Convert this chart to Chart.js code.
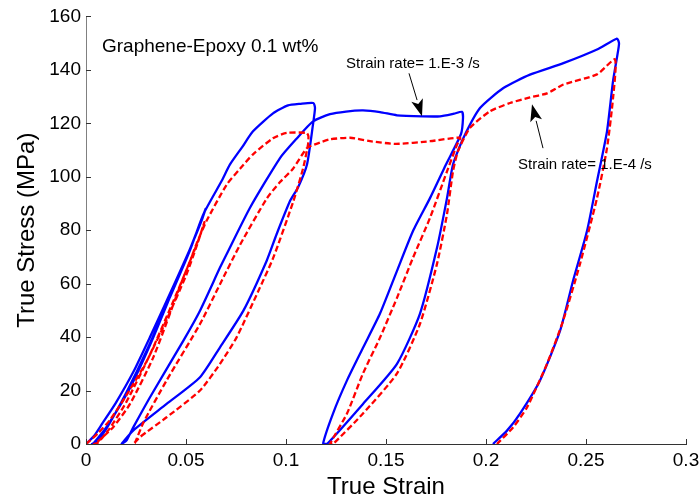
<!DOCTYPE html>
<html>
<head>
<meta charset="utf-8">
<script src="https://cdn.jsdelivr.net/npm/chart.js@4.4.0/dist/chart.umd.min.js"></script>
<style>
body { margin: 0; background: #fff; }
#wrap { width: 700px; height: 502px; }
</style>
</head>
<body>
<div id="wrap"><canvas id="stressStrain" width="700" height="502"></canvas></div>
<script>
// strain rate 1.E-3 /s  (blue, solid)
var strainFast = [
    0, 0.004, 0.008, 0.015, 0.0237, 0.032, 0.0403, 0.052, 0.0598,
    0.058, 0.0537, 0.045, 0.032, 0.022, 0.0103, 0.004, 0.003,
    0.005, 0.01, 0.02, 0.031, 0.042, 0.052, 0.0587, 0.0678, 0.072, 0.078, 0.0835, 0.0935, 0.101, 0.107, 0.1137, 0.1145,
    0.1135, 0.1105, 0.106, 0.102, 0.0953, 0.0903, 0.0787, 0.067, 0.057, 0.0403, 0.0237, 0.0178,
    0.0203, 0.0237, 0.032, 0.0487, 0.057, 0.067, 0.0703, 0.082, 0.097, 0.105, 0.1135, 0.122, 0.13, 0.1385, 0.147, 0.1555, 0.1685, 0.177, 0.184, 0.188, 0.1885,
    0.1875, 0.18, 0.172, 0.1635, 0.1555, 0.147, 0.1385, 0.1305, 0.1235, 0.1185,
    0.1205, 0.1385, 0.1555, 0.167, 0.1755, 0.1805, 0.1835, 0.1887, 0.197, 0.2087, 0.222, 0.2387, 0.2555, 0.2655, 0.2665,
    0.266, 0.2635, 0.2605, 0.2555, 0.2505, 0.2435, 0.237, 0.227, 0.217, 0.2105, 0.2035
];
var stressFast = [
    0, 3, 7.5, 15.5, 27, 40, 53.5, 73, 88,
    84, 76, 60.5, 37, 21, 6.4, 0.5, 0,
    0.5, 5.5, 19, 36, 55, 72.5, 86, 98.4, 104.6, 111, 117, 123.7, 126.7, 127.3, 127.6, 125.7,
    119.6, 104.6, 96, 90.9, 78.5, 68.5, 49.9, 36.2, 25, 15, 5.1, 0,
    1.4, 6.3, 17.5, 38.7, 49.9, 66, 71, 88.4, 107, 114, 120.7, 123.4, 124.4, 124.8, 124.2, 123, 122.6, 122.6, 123.6, 124.3, 122,
    116, 104.6, 92, 79.7, 64.8, 48.8, 36, 23.8, 11.4, 0,
    0, 15, 30, 48.8, 73.4, 92, 104.6, 114.5, 125.7, 133.2, 138.2, 142.5, 147.6, 151.7, 150,
    146.9, 135.7, 117, 98.3, 79.7, 61, 42.3, 23.8, 11.4, 5, 0
];

// strain rate 1.E-4 /s  (red, dashed)
var strainSlow = [
    0, 0.006, 0.012, 0.02, 0.03, 0.04, 0.05, 0.0553, 0.0592,
    0.057, 0.0553, 0.048, 0.0337, 0.022, 0.0137, 0.006, 0.004,
    0.006, 0.012, 0.02, 0.032, 0.044, 0.052, 0.0553, 0.0603, 0.0703, 0.077, 0.0835, 0.0935, 0.1003, 0.1103, 0.1112,
    0.111, 0.1085, 0.1037, 0.0937, 0.087, 0.0753, 0.067, 0.057, 0.0403, 0.027, 0.0237,
    0.0245, 0.0287, 0.0403, 0.057, 0.067, 0.077, 0.0905, 0.097, 0.1035, 0.1105, 0.117, 0.122, 0.132, 0.142, 0.155, 0.172, 0.187,
    0.1855, 0.1805, 0.172, 0.1635, 0.1555, 0.147, 0.1385, 0.1305, 0.122,
    0.1235, 0.1385, 0.1555, 0.167, 0.1755, 0.1805, 0.1835, 0.186, 0.192, 0.202, 0.212, 0.222, 0.2305, 0.2387, 0.2555, 0.2645,
    0.2635, 0.2605, 0.2555, 0.247, 0.2385, 0.2305, 0.2205, 0.2135, 0.2055
];
var stressSlow = [
    0, 4, 9, 18, 30.5, 46, 63, 74, 83,
    78, 74.5, 61, 32.5, 15, 6.4, 1, 0,
    0.5, 6, 15.5, 33.5, 54, 68.4, 75, 83.5, 97, 103, 108.4, 114.4, 116.4, 116.4, 115.2,
    112, 103, 90.9, 69.8, 58.6, 39.9, 30, 20, 10, 2.6, 0,
    0.5, 8, 23.8, 44.9, 59.8, 74.5, 92, 98, 103, 110.7, 112.8, 114, 114.6, 113.3, 112.3, 113.3, 114.6,
    112, 102, 84.6, 69.7, 54.7, 39.8, 26.4, 11.4, 0,
    0, 11.4, 26.4, 45, 67.4, 86, 102, 109.6, 118.3, 124.5, 127.6, 129.7, 131.2, 134.5, 138.3, 143.9,
    129.3, 110.7, 92, 67.4, 46, 30, 13.7, 6.2, 0
];

var strainTicks = [0, 0.05, 0.1, 0.15, 0.2, 0.25, 0.3];
var stressTicks = [0, 20, 40, 60, 80, 100, 120, 140, 160];

var fontFamily = "Arial, 'Liberation Sans', sans-serif";

function toPoints(xs, ys) {
    var pts = [];
    for (var i = 0; i < xs.length; i++) {
        pts.push({x: xs[i], y: ys[i]});
    }
    return pts;
}

// draws the inward ticks, the text labels and the arrows
var extras = {
    id: 'extras',
    afterDraw: function(chart) {
        var ctx = chart.ctx, xs = chart.scales.x, ys = chart.scales.y;
        ctx.save();

        ctx.strokeStyle = '#333';
        ctx.lineWidth = 1;
        strainTicks.forEach(function(v) {
            var px = Math.round(xs.getPixelForValue(v)) + 0.5;
            ctx.beginPath();
            ctx.moveTo(px, ys.bottom);
            ctx.lineTo(px, ys.bottom - 5);
            ctx.stroke();
        });
        stressTicks.forEach(function(v) {
            var py = Math.round(ys.getPixelForValue(v)) + 0.5;
            ctx.beginPath();
            ctx.moveTo(xs.left, py);
            ctx.lineTo(xs.left + 5, py);
            ctx.stroke();
        });

        ctx.fillStyle = '#000';
        ctx.textBaseline = 'alphabetic';
        ctx.textAlign = 'left';
        ctx.font = '19px ' + fontFamily;
        ctx.fillText('Graphene-Epoxy 0.1 wt%', xs.getPixelForValue(0.008), ys.getPixelForValue(146.6));
        ctx.font = '15px ' + fontFamily;
        ctx.fillText('Strain rate= 1.E-3 /s', xs.getPixelForValue(0.13), ys.getPixelForValue(140.7));
        ctx.fillText('Strain rate= 1.E-4 /s', xs.getPixelForValue(0.216), ys.getPixelForValue(102.9));

        function arrow(x0, y0, x1, y1) {
            var ax = xs.getPixelForValue(x0), ay = ys.getPixelForValue(y0);
            var bx = xs.getPixelForValue(x1), by = ys.getPixelForValue(y1);
            var ang = Math.atan2(by - ay, bx - ax);
            var len = 17, half = 6;
            var cx = bx - len * Math.cos(ang), cy = by - len * Math.sin(ang);
            ctx.strokeStyle = '#000';
            ctx.lineWidth = 1;
            ctx.beginPath();
            ctx.moveTo(ax, ay);
            ctx.lineTo(cx, cy);
            ctx.stroke();
            var nx = -Math.sin(ang), ny = Math.cos(ang);
            var mx = bx - (len - 4) * Math.cos(ang), my = by - (len - 4) * Math.sin(ang);
            ctx.beginPath();
            ctx.moveTo(bx, by);
            ctx.lineTo(cx + nx * half, cy + ny * half);
            ctx.lineTo(mx, my);
            ctx.lineTo(cx - nx * half, cy - ny * half);
            ctx.closePath();
            ctx.fill();
        }
        arrow(0.1615, 138.7, 0.168, 122.6);
        arrow(0.2285, 110.7, 0.223, 127.1);

        ctx.restore();
    }
};

var chart = new Chart(document.getElementById('stressStrain').getContext('2d'), {
    type: 'scatter',
    data: {
        datasets: [{
            label: 'Strain rate= 1.E-3 /s',
            data: toPoints(strainFast, stressFast),
            showLine: true,
            borderColor: '#0000ff',
            borderWidth: 2.3,
            pointRadius: 0,
            tension: 0.2,
            order: 2
        }, {
            label: 'Strain rate= 1.E-4 /s',
            data: toPoints(strainSlow, stressSlow),
            showLine: true,
            borderColor: '#ff0000',
            borderWidth: 2.3,
            borderDash: [6, 3],
            pointRadius: 0,
            tension: 0.2,
            order: 1
        }]
    },
    options: {
        responsive: false,
        animation: false,
        devicePixelRatio: 1,
        layout: { padding: { top: 15, right: 14, left: 0, bottom: 0 } },
        plugins: {
            legend: { display: false },
            tooltip: { enabled: false }
        },
        scales: {
            x: {
                type: 'linear',
                min: 0,
                max: 0.3,
                afterFit: function(scale) {
                    scale.height = 58;
                    scale.paddingRight = 14;
                    scale.paddingLeft = 0;
                },
                afterBuildTicks: function(scale) {
                    scale.ticks = strainTicks.map(function(v) { return {value: v}; });
                },
                grid: { display: false, drawTicks: false },
                border: { display: true, color: '#333', width: 1 },
                ticks: {
                    color: '#000',
                    padding: 5,
                    maxRotation: 0,
                    font: { family: fontFamily, size: 19 },
                    callback: function(v) { return String(Math.round(v * 100) / 100); }
                },
                title: {
                    display: true,
                    text: 'True Strain',
                    color: '#000',
                    font: { family: fontFamily, size: 24 },
                    padding: { top: 0, bottom: 0 }
                }
            },
            y: {
                type: 'linear',
                min: 0,
                max: 160,
                afterFit: function(scale) { scale.width = 86; },
                afterBuildTicks: function(scale) {
                    scale.ticks = stressTicks.map(function(v) { return {value: v}; });
                },
                grid: { display: false, drawTicks: false },
                border: { display: true, color: '#808080', width: 1 },
                ticks: {
                    color: '#000',
                    padding: 5,
                    font: { family: fontFamily, size: 19 }
                },
                title: {
                    display: true,
                    text: 'True Stress (MPa)',
                    color: '#000',
                    font: { family: fontFamily, size: 24 },
                    padding: { top: 13, bottom: 0 }
                }
            }
        }
    },
    plugins: [extras]
});
</script>
</body>
</html>
